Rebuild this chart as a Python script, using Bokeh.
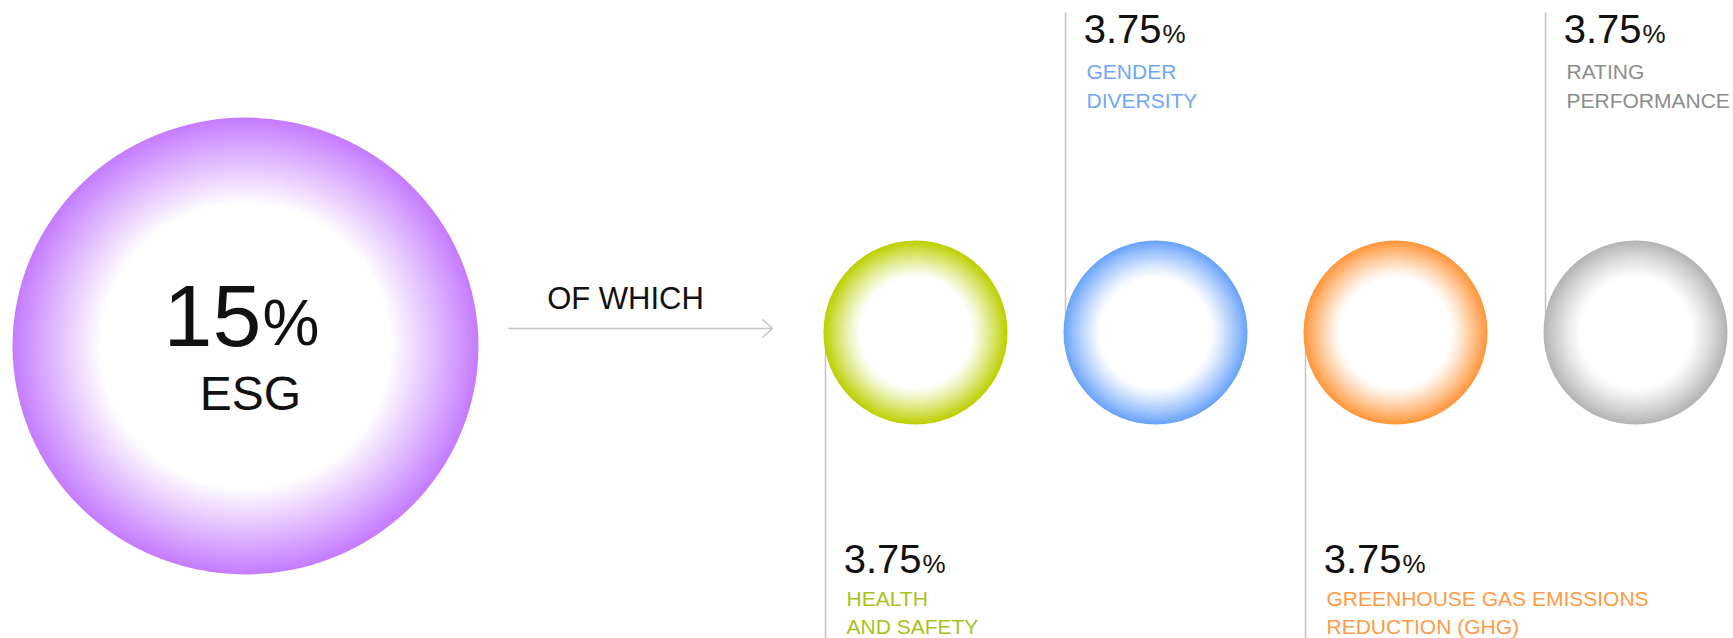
import numpy as np
from bokeh.plotting import figure
from bokeh.models import Range1d
from bokeh.core.properties import value
from bokeh.embed import file_html
from bokeh.resources import INLINE

# ---------------- data ----------------
total_value = 15
total_label = "ESG"
connector_text = "OF WHICH"
component_values = [3.75, 3.75, 3.75, 3.75]
component_lines_1 = ["HEALTH", "GENDER", "GREENHOUSE GAS EMISSIONS", "RATING"]
component_lines_2 = ["AND SAFETY", "DIVERSITY", "REDUCTION (GHG)", "PERFORMANCE"]
component_colors = ["#bdd000", "#69a3fa", "#ff963a", "#b3b5b3"]
component_text_colors = ["#a8c11c", "#6ea7f8", "#ff9a46", "#8c8c8c"]
total_color = "#c57cff"

# ---------------- layout ----------------
W, H = 1733, 638
FONT = value("Liberation Sans")
BIG_CX, BIG_CY, BIG_W, BIG_H = 245, 345.5, 466, 457
SMALL_CX0, SMALL_DX, SMALL_CY, SMALL_D = 915, 240, 332, 184
placement = ["below", "above", "below", "above"]
LINE_COLOR = "#c4c4c4"
INK = "#111111"
BASELINE_FIX = 0.36  # svg baseline correction (fraction of font size)

p = figure(width=W, height=H, x_range=Range1d(0, W), y_range=Range1d(H, 0),
           output_backend="svg", toolbar_location=None, min_border=0,
           x_axis_location=None, y_axis_location=None)
p.grid.visible = False
p.outline_line_color = None
p.background_fill_color = "white"
p.border_fill_color = "white"


def hex_to_rgb(h):
    h = h.lstrip("#")
    return tuple(int(h[i:i + 2], 16) for i in (0, 2, 4))


def gradient_disc(cx, cy, w, h, color, inner=0.58, steps=70, power=1.0):
    rgb = hex_to_rgb(color)
    xs, ys, ws, hs, cs = [], [], [], [], []
    for t in np.linspace(1.0, inner, steps):
        f = max(0.0, (t - inner) / (1 - inner)) ** power
        c = tuple(int(round(255 + (ci - 255) * f)) for ci in rgb)
        xs.append(cx); ys.append(cy); ws.append(w * t); hs.append(h * t)
        cs.append("#%02x%02x%02x" % c)
    p.ellipse(x=xs, y=ys, width=ws, height=hs, fill_color=cs, line_color=None)


def label(xs, ys, texts, size, color, align="left"):
    p.text(x=xs, y=[y - BASELINE_FIX * size for y in ys], text=texts, text_align=align,
           text_baseline="alphabetic", text_font=FONT, text_font_size=value(f"{size}px"),
           text_color=color)


centers = [SMALL_CX0 + i * SMALL_DX for i in range(len(component_values))]

# connector lines (behind circles)
x0s, y0s, x1s, y1s = [], [], [], []
for cx, pl in zip(centers, placement):
    lx = cx - 90
    x0s.append(lx); x1s.append(lx)
    if pl == "above":
        y0s.append(12); y1s.append(SMALL_CY)
    else:
        y0s.append(SMALL_CY); y1s.append(H + 10)
p.segment(x0=x0s, y0=y0s, x1=x1s, y1=y1s, line_color=LINE_COLOR, line_width=1.5)

# big circle
gradient_disc(BIG_CX, BIG_CY, BIG_W, BIG_H, total_color, inner=0.62, steps=90, power=1.0)
# small circles
for cx, col in zip(centers, component_colors):
    gradient_disc(cx, SMALL_CY, SMALL_D, SMALL_D, col, inner=0.6, steps=60, power=1.15)

# big circle text
label([261], [347], [f"{total_value:g}"], 88, INK, "right")
label([262], [346], ["%"], 64, INK, "left")
label([250], [410], [total_label], 48, INK, "center")

# "OF WHICH" arrow
label([625], [309], [connector_text], 31, INK, "center")
ax0, ax1, ay = 508, 772, 328
p.multi_line(xs=[[ax0, ax1], [ax1 - 10, ax1, ax1 - 10]], ys=[[ay, ay], [ay - 9, ay, ay + 9]],
             line_color=LINE_COLOR, line_width=1.5)

# component labels
for cx, pl, v, l1, l2, tc in zip(centers, placement, component_values,
                                 component_lines_1, component_lines_2, component_text_colors):
    tx = cx - 69
    split = cx + 6
    if pl == "above":
        yn, y1, y2 = 43, 79, 108
    else:
        yn, y1, y2 = 573, 606, 634
    label([split], [yn], [f"{v:g}"], 40, INK, "right")
    label([split + 1], [yn], ["%"], 26, INK, "left")
    label([tx, tx], [y1, y2], [l1, l2], 21, tc, "left")

open("out.html", "w").write(file_html(p, INLINE))
